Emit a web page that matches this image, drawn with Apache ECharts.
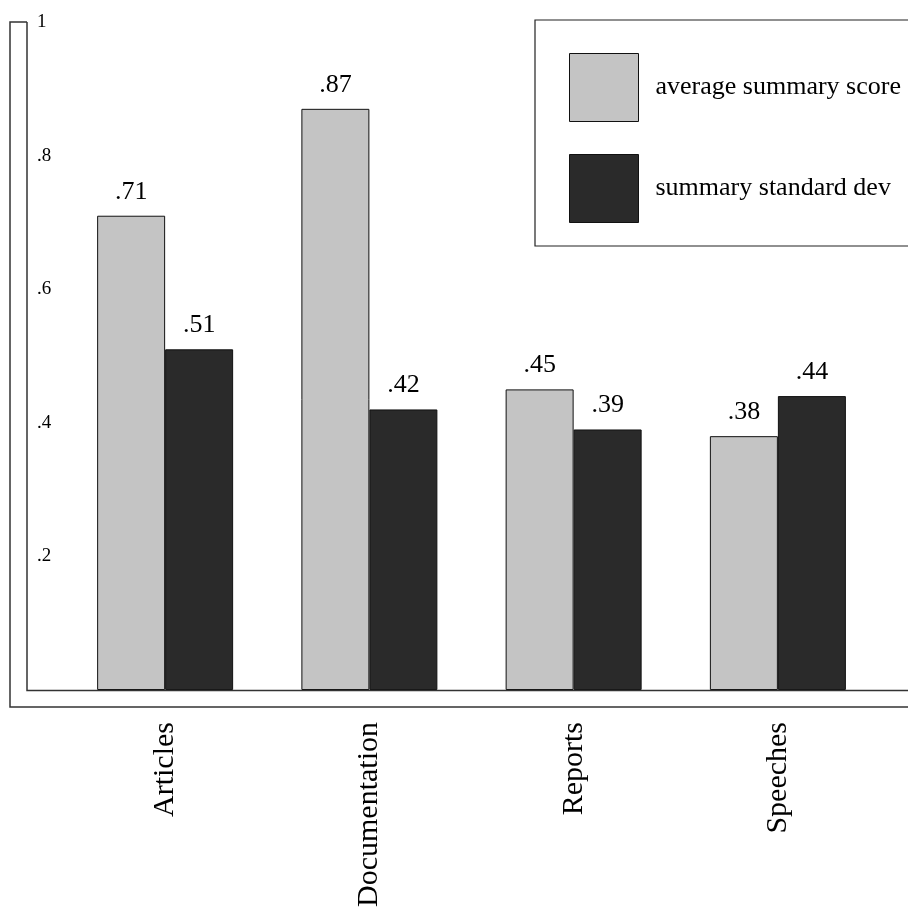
<!DOCTYPE html>
<html>
<head>
<meta charset="utf-8">
<script src="https://cdn.jsdelivr.net/npm/echarts@6/dist/echarts.min.js"></script>
<style>html,body{margin:0;padding:0;background:#fff}#c{width:908px;height:911px}</style>
</head>
<body>
<div id="c"></div>
<script>
const categories = ['Articles', 'Documentation', 'Reports', 'Speeches'];
const avgScore = [0.71, 0.87, 0.45, 0.38];
const stdDev = [0.51, 0.42, 0.39, 0.44];
const avgLabels = ['.71', '.87', '.45', '.38'];
const stdLabels = ['.51', '.42', '.39', '.44'];
const yTicks = [0, 0.2, 0.4, 0.6, 0.8, 1];
const yTickLabels = ['', '.2', '.4', '.6', '.8', '1'];
const seriesNames = ['average summary score', 'summary standard dev'];

const FONT = 'Liberation Serif, Times New Roman, serif';
const chart = echarts.init(document.getElementById('c'), null, {renderer: 'canvas'});
const labelFor = (arr) => (p) => arr[p.dataIndex];

chart.setOption({
  backgroundColor: '#ffffff',
  animation: false,
  grid: {left: 63, right: 28, top: 22, bottom: 221},
  legend: {
    orient: 'vertical',
    left: 535, top: 20,
    padding: [33, 60, 23, 34],
    itemWidth: 69, itemHeight: 68, itemGap: 32,
    borderColor: '#222', borderWidth: 1.2,
    icon: 'rect',
    itemStyle: {borderColor: '#111', borderWidth: 1},
    textStyle: {fontFamily: FONT, fontSize: 26, color: '#000', padding: [0, 0, 0, 12]},
    data: seriesNames
  },
  xAxis: {
    type: 'category',
    data: categories,
    axisLine: {show: false},
    axisTick: {show: false},
    axisLabel: {rotate: 90, margin: 32, fontFamily: FONT, fontSize: 30, color: '#000'}
  },
  yAxis: {
    type: 'value',
    min: 0, max: 1, interval: 0.2,
    offset: 35,
    axisLine: {show: false},
    axisTick: {show: false},
    splitLine: {show: false},
    axisLabel: {
      inside: true, margin: 9,
      fontFamily: FONT, fontSize: 19, color: '#000',
      padding: [0, 0, 9, 0],
      formatter: (v) => {
        const i = yTicks.findIndex(t => Math.abs(t - v) < 1e-6);
        return i >= 0 ? yTickLabels[i] : '';
      }
    }
  },
  series: [
    {
      name: seriesNames[0], type: 'bar', data: avgScore,
      barWidth: 68, barGap: '0%',
      itemStyle: {color: '#c4c4c4', borderColor: '#111', borderWidth: 1},
      label: {show: true, position: 'top', distance: 11, formatter: labelFor(avgLabels),
              fontFamily: FONT, fontSize: 26, color: '#000'}
    },
    {
      name: seriesNames[1], type: 'bar', data: stdDev,
      barWidth: 68, barGap: '0%',
      itemStyle: {color: '#2a2a2a', borderColor: '#111', borderWidth: 1},
      label: {show: true, position: 'top', distance: 11, formatter: labelFor(stdLabels),
              fontFamily: FONT, fontSize: 26, color: '#000'}
    }
  ],
  graphic: [
    {type: 'polyline', silent: true, z: 10,
     shape: {points: [[27, 22], [27, 690.5], [908, 690.5]]},
     style: {stroke: '#333', lineWidth: 1.5, fill: null}},
    {type: 'polyline', silent: true, z: 10,
     shape: {points: [[27, 22], [10, 22], [10, 707], [908, 707]]},
     style: {stroke: '#333', lineWidth: 1.5, fill: null}}
  ]
});
</script>
</body>
</html>
